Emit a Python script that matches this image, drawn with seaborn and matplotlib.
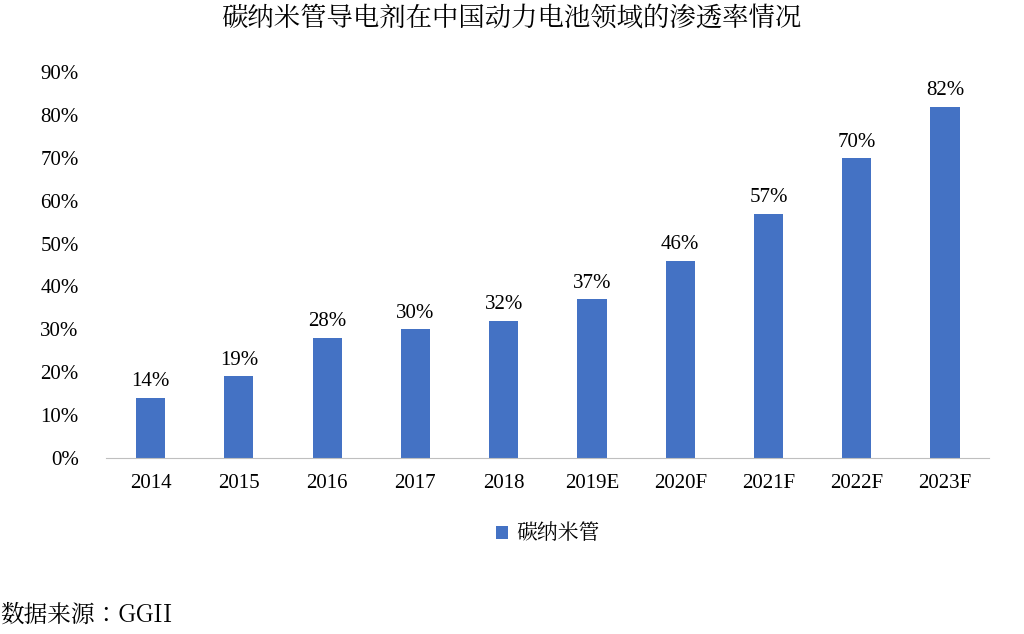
import matplotlib
matplotlib.use("Agg")
import matplotlib.pyplot as plt
from matplotlib import font_manager
import seaborn as sns
import pandas as pd

# data
years = ["2014", "2015", "2016", "2017", "2018", "2019E", "2020F", "2021F", "2022F", "2023F"]
penetration = [14, 19, 28, 30, 32, 37, 46, 57, 70, 82]
yticks = [0, 10, 20, 30, 40, 50, 60, 70, 80, 90]

# locate a CJK font file directly, fallback by name is unreliable
cjk_path = None
for f in font_manager.findSystemFonts():
    if "NotoSansCJK" in f.replace(" ", "") or "NotoSerifCJK" in f.replace(" ", ""):
        cjk_path = f
        if "Serif" in f:
            break
if cjk_path:
    font_manager.fontManager.addfont(cjk_path)
    cjk = font_manager.FontProperties(fname=cjk_path)
else:
    cjk = font_manager.FontProperties(family="Noto Sans CJK SC")

plt.rcParams["font.family"] = "Liberation Serif"

df = pd.DataFrame({"year": years, "value": penetration})

fig = plt.figure(figsize=(10.24, 6.34), dpi=100)
ax = fig.add_axes([0.104, 0.278, 0.862, 0.608])
sns.barplot(data=df, x="year", y="value", color="#4472C4", width=0.33,
            saturation=1, ax=ax, label="碳纳米管")

for i, v in enumerate(penetration):
    ax.text(i, v + 1.5, f"{v}%", ha="center", va="bottom", fontsize=15)

ax.set_ylim(0, 90)
ax.set_yticks(yticks)
ax.set_yticklabels([f"{t}%" for t in yticks])
ax.set_xlim(-0.5, len(years) - 0.5)
ax.set_xlabel("")
ax.set_ylabel("")
ax.tick_params(axis="both", labelsize=15, length=0)
ax.tick_params(axis="x", pad=12)
ax.tick_params(axis="y", pad=20)
for s in ["top", "right", "left"]:
    ax.spines[s].set_visible(False)
ax.spines["bottom"].set_color("#BFBFBF")

cjk15 = cjk.copy()
cjk15.set_size(15)
ax.legend(loc="upper center", bbox_to_anchor=(0.5, -0.12), frameon=False,
          prop=cjk15, handlelength=0.6, handleheight=0.6, handletextpad=0.4)

title_fp = cjk.copy()
title_fp.set_size(19)
title_fp.set_weight("bold")
fig.text(0.5, 0.97, "碳纳米管导电剂在中国动力电池领域的渗透率情况", ha="center",
         va="center", fontproperties=title_fp)
src_fp = cjk.copy()
src_fp.set_size(17)
fig.text(0.0, 0.03, "数据来源：GGII", ha="left", va="center", fontproperties=src_fp)

fig.savefig("out.png", dpi=100)
